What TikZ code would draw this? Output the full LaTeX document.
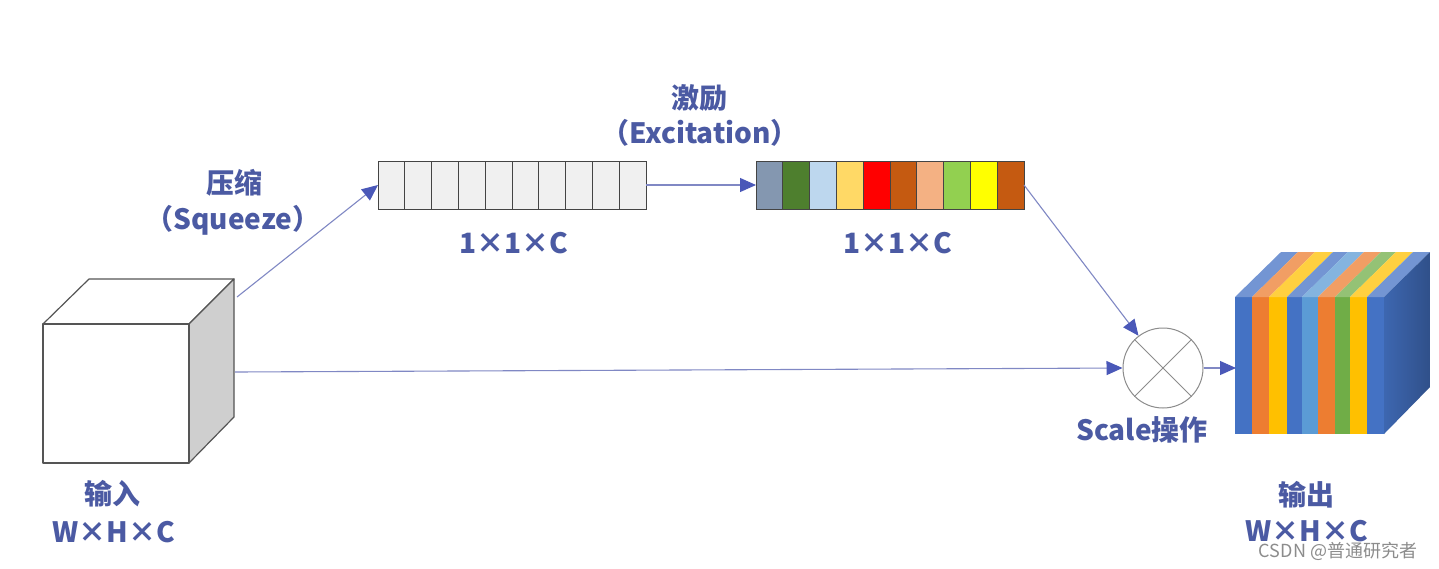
\documentclass[tikz,border=0pt]{standalone}
\usepackage{fontspec}
\usetikzlibrary{arrows.meta,calc}
\newfontfamily\cjk{Noto Sans CJK SC}
\definecolor{txt}{HTML}{4B5AA3}
\definecolor{linec}{HTML}{8088C4}
\definecolor{headc}{HTML}{4A58B8}
\definecolor{edge}{HTML}{555555}
\definecolor{cblue}{HTML}{4472C4}
\definecolor{corange}{HTML}{ED7D31}
\definecolor{cyellow}{HTML}{FFC000}
\definecolor{clblue}{HTML}{5B9BD5}
\definecolor{cgreen}{HTML}{70AD47}
\tikzset{
  lab/.style={font=\cjk\bfseries\fontsize{28}{32}\selectfont, text=txt, inner sep=0pt},
  conn/.style={draw=linec, line width=1.1pt, -{Triangle[length=16pt,width=14pt,color=headc]}},
  cell/.style={draw=edge!80!black, line width=1pt},
}
\begin{document}
\begin{tikzpicture}[x=1pt,y=-1pt]
\useasboundingbox (0,0) rectangle (1439,568);
\fill[white] (0,0) rectangle (1439,568);

% input cube
\begin{scope}[draw=edge, line width=1.2pt, line join=round]
\filldraw[fill=white] (43,324) -- (89,279) -- (234,279) -- (189,324) -- cycle;
\filldraw[fill=black!19] (189,324) -- (234,279) -- (234,417) -- (189,463) -- cycle;
\filldraw[fill=white] (43,324) rectangle (189,463);
\end{scope}
\coordinate (inTR) at (237,297);
\coordinate (inR) at (235,372);

% squeeze bar
\node[minimum width=268pt, minimum height=48pt, inner sep=0pt, outer sep=0pt] (sq) at (512,185) {};
\foreach \i in {0,...,9} {
  \filldraw[cell, fill=black!6] ($(sq.north west)+(\i*26.8,0)$) rectangle ++(26.8,48);
}

% excitation bar
\node[minimum width=268pt, minimum height=48pt, inner sep=0pt, outer sep=0pt] (ex) at (890,185) {};
\foreach \c [count=\i from 0] in {8497B0,4E7F2E,BDD7EE,FFD966,FF0000,C55A11,F4B183,92D050,FFFF00,C55A11} {
  \definecolor{tmpc}{HTML}{\c}
  \filldraw[cell, fill=tmpc] ($(ex.north west)+(\i*26.8,0)$) rectangle ++(26.8,48);
}

% scale circle
\node[circle, draw=black!45, line width=1pt, minimum size=80pt, inner sep=0pt] (sc) at (1163,368) {};
\draw[black!45, line width=1pt] (sc.45) -- (sc.225) (sc.135) -- (sc.315);

% output cube
\coordinate (outL) at (1236,368);
\def\xs{{1235,1252,1269,1287,1302,1318,1335,1350,1367,1384}}
\foreach \c [count=\i from 0] in {cblue,corange,cyellow,cblue,clblue,corange,cgreen,cyellow,cblue} {
  \pgfmathsetmacro{\xa}{\xs[\i]}
  \pgfmathsetmacro{\xb}{\xs[\i+1]}
  \fill[\c] (\xa,297) rectangle (\xb,434);
  \fill[\c!75!white] (\xa,297) -- (\xb,297) -- (\xb+46,252) -- (\xa+46,252) -- cycle;
}
\shade[left color=cblue!90!black, right color=cblue!70!black] (1384,297) -- (1430,252) -- (1430,387) -- (1384,434) -- cycle;

% connectors
\draw[conn] (inTR) -- (sq.west);
\draw[conn] (sq.east) -- (ex.west);
\draw[conn] (ex.east) -- (sc);
\draw[conn] (inR) -- (sc.west);
\draw[conn] (sc.east) -- (outL);

% labels
\node[lab] (l1) at (234,183) {压缩};
\node[lab] (l2) at (233,220) {（Squeeze）};
\node[lab] (l3) at (699,98) {激励};
\node[lab] (l4) at (700,133) {（Excitation）};
\node[lab] (l5) at (514,243) {1×1×C};
\node[lab] (l6) at (898,243) {1×1×C};
\node[lab] (l7) at (1142,430) {Scale操作};
\node[lab] (l8) at (112,494) {输入};
\node[lab] (l9) at (114,532) {W×H×C};
\node[lab] (l10) at (1306,495) {输出};
\node[lab] (l11) at (1307,531) {W×H×C};
\node[font=\cjk\fontsize{18}{20}\selectfont, text=black!45, inner sep=0pt] (wm) at (1338,551) {CSDN @普通研究者};
\end{tikzpicture}
\end{document}
